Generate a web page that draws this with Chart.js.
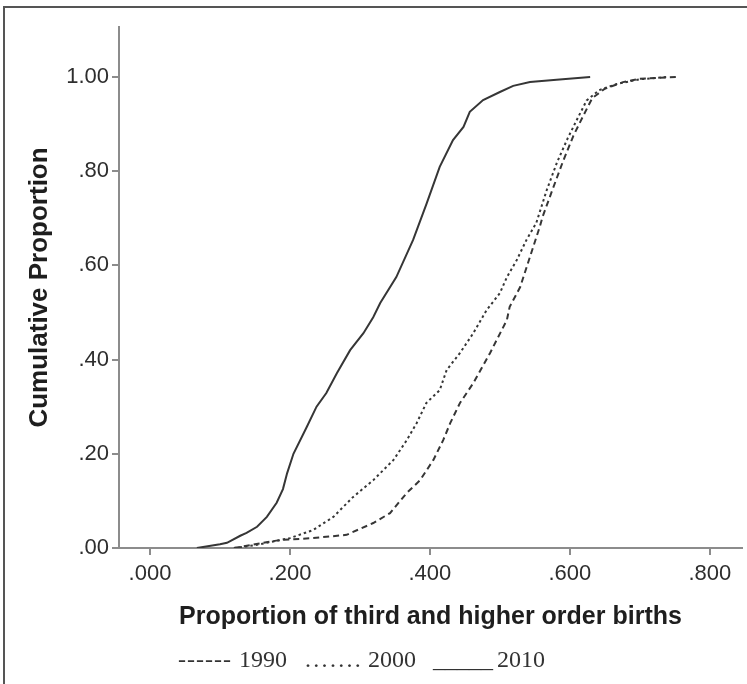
<!DOCTYPE html>
<html>
<head>
<meta charset="utf-8">
<script src="https://cdn.jsdelivr.net/npm/chart.js@4"></script>
<style>
  html, body { margin: 0; padding: 0; background: #fff; overflow: hidden; }
  body { width: 747px; height: 684px; position: relative; }
  #frame { position: absolute; left: 3px; top: 6px; width: 900px; height: 900px; border: 2px solid #555; box-sizing: border-box; }
  #c { position: absolute; left: 0; top: 0; }
  .lg { position: absolute; top: 647px; font-family: "Liberation Serif", serif; font-size: 24px; line-height: 24px; color: #333; white-space: pre; }
</style>
</head>
<body>
<div id="frame"></div>
<canvas id="c" width="747" height="684"></canvas>
<div class="lg" style="left:178px; letter-spacing:1px;">------</div>
<div class="lg" style="left:239px;">1990</div>
<div class="lg" style="left:305px; letter-spacing:2.3px;">.......</div>
<div class="lg" style="left:368px;">2000</div>
<div class="lg" style="left:433px;">_____</div>
<div class="lg" style="left:497px;">2010</div>
<script>
// ---- Data ----
const seriesNames = ['1990', '2000', '2010'];

const x1990 = [0.12, 0.15, 0.186, 0.233, 0.281, 0.319, 0.343, 0.367, 0.386, 0.405, 0.419, 0.429, 0.443, 0.462, 0.486, 0.51, 0.514, 0.529, 0.543, 0.557, 0.561, 0.575, 0.59, 0.605, 0.62, 0.632, 0.65, 0.676, 0.70, 0.753];
const y1990 = [0, 0.008, 0.017, 0.021, 0.028, 0.053, 0.074, 0.117, 0.144, 0.187, 0.229, 0.265, 0.308, 0.35, 0.414, 0.484, 0.512, 0.554, 0.618, 0.682, 0.703, 0.76, 0.82, 0.875, 0.92, 0.955, 0.975, 0.989, 0.996, 1.0];

const x2000 = [0.12, 0.15, 0.2, 0.233, 0.262, 0.29, 0.319, 0.348, 0.367, 0.381, 0.395, 0.414, 0.424, 0.443, 0.462, 0.481, 0.5, 0.51, 0.524, 0.538, 0.552, 0.567, 0.582, 0.597, 0.612, 0.624, 0.642, 0.667, 0.70, 0.74];
const y2000 = [0, 0.006, 0.021, 0.038, 0.066, 0.108, 0.144, 0.187, 0.229, 0.265, 0.308, 0.335, 0.378, 0.414, 0.456, 0.505, 0.541, 0.575, 0.611, 0.654, 0.69, 0.76, 0.82, 0.87, 0.915, 0.95, 0.972, 0.985, 0.995, 1.0];

const x2010 = [0.067, 0.10, 0.11, 0.129, 0.138, 0.153, 0.167, 0.181, 0.19, 0.196, 0.205, 0.224, 0.238, 0.252, 0.267, 0.286, 0.305, 0.319, 0.329, 0.352, 0.376, 0.395, 0.414, 0.433, 0.448, 0.457, 0.476, 0.50, 0.519, 0.543, 0.581, 0.629];
const y2010 = [0, 0.008, 0.011, 0.026, 0.032, 0.045, 0.066, 0.096, 0.125, 0.159, 0.20, 0.257, 0.30, 0.329, 0.371, 0.42, 0.456, 0.49, 0.52, 0.575, 0.654, 0.73, 0.809, 0.866, 0.894, 0.926, 0.951, 0.968, 0.981, 0.989, 0.994, 1.0];

const xTickValues = [0, 0.2, 0.4, 0.6, 0.8];
const xTickLabels = ['.000', '.200', '.400', '.600', '.800'];
const yTickValues = [0, 0.2, 0.4, 0.6, 0.8, 1.0];
const yTickLabels = ['.00', '.20', '.40', '.60', '.80', '1.00'];

const xTitle = 'Proportion of third and higher order births';
const yTitle = 'Cumulative Proportion';

function pts(xs, ys) { return xs.map((x, i) => ({ x: x, y: ys[i] })); }
function lab(values, labels, v) {
  for (let i = 0; i < values.length; i++) if (Math.abs(values[i] - v) < 1e-9) return labels[i];
  return '';
}

const lineColor = '#363636';
const axisColor = '#8c8c8c';

new Chart(document.getElementById('c'), {
  type: 'scatter',
  data: {
    datasets: [
      { label: seriesNames[0], data: pts(x1990, y1990), showLine: true, pointRadius: 0, borderColor: lineColor, borderWidth: 2, borderDash: [6, 4], fill: false, tension: 0 },
      { label: seriesNames[1], data: pts(x2000, y2000), showLine: true, pointRadius: 0, borderColor: lineColor, borderWidth: 2, borderDash: [2.5, 3], fill: false, tension: 0 },
      { label: seriesNames[2], data: pts(x2010, y2010), showLine: true, pointRadius: 0, borderColor: lineColor, borderWidth: 2, fill: false, tension: 0 }
    ]
  },
  options: {
    responsive: false,
    animation: false,
    layout: { padding: { left: 0, right: 5, top: 27, bottom: 0 } },
    plugins: { legend: { display: false }, tooltip: { enabled: false } },
    scales: {
      x: {
        type: 'linear', min: -0.0443, max: 0.846,
        afterBuildTicks: s => { s.ticks = xTickValues.map(v => ({ value: v })); },
        afterFit: s => { s.height = 136; },
        border: { display: true, color: axisColor, width: 2 },
        grid: { display: true, drawOnChartArea: false, drawTicks: true, tickLength: 7, color: axisColor, lineWidth: 2 },
        ticks: { autoSkip: false, maxRotation: 0, padding: 6, color: '#2e2e2e', font: { family: 'Liberation Sans', size: 22 }, callback: v => lab(xTickValues, xTickLabels, v) },
        title: { display: true, text: xTitle, color: '#1e1e1e', font: { family: 'Liberation Sans', size: 25, weight: 'bold' }, padding: { top: 0, bottom: 52 } }
      },
      y: {
        type: 'linear', min: 0, max: 1.106,
        afterBuildTicks: s => { s.ticks = yTickValues.map(v => ({ value: v })); },
        afterFit: s => { s.width = 119; },
        border: { display: true, color: axisColor, width: 2 },
        grid: { display: true, drawOnChartArea: false, drawTicks: true, tickLength: 7, color: axisColor, lineWidth: 2 },
        ticks: { autoSkip: false, padding: 3, color: '#2e2e2e', font: { family: 'Liberation Sans', size: 22 }, callback: v => lab(yTickValues, yTickLabels, v) },
        title: { display: true, text: yTitle, color: '#1e1e1e', font: { family: 'Liberation Sans', size: 26, weight: 'bold' }, padding: { top: 24, bottom: 0 } }
      }
    }
  }
});
</script>
</body>
</html>
